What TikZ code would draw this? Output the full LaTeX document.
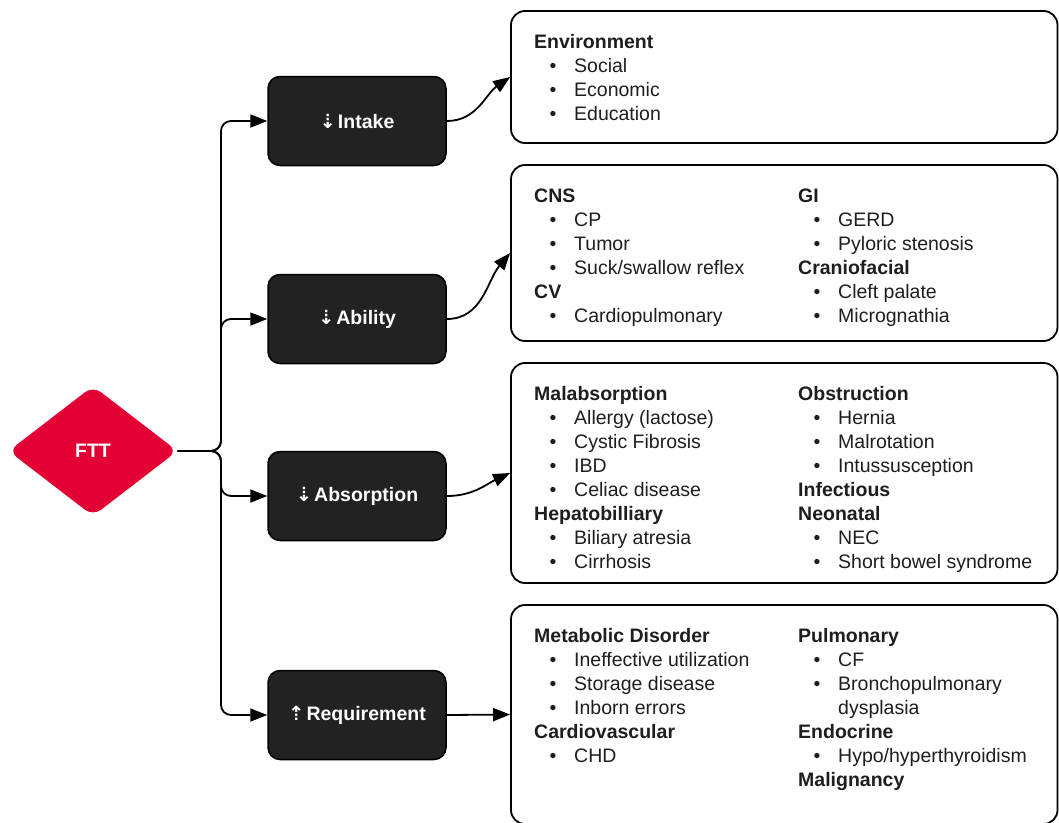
\documentclass[tikz,border=0pt]{standalone}
\usepackage{fontspec}
\setmainfont{Liberation Sans}
\newfontfamily\arrowfont{DejaVu Sans}
\usetikzlibrary{arrows.meta,shapes.geometric}

\definecolor{fttred}{RGB}{227,0,52}
\definecolor{boxdark}{RGB}{34,34,34}
\definecolor{ink}{RGB}{30,30,30}

% list helpers: group heading, bulleted item, wrapped continuation
\newcommand{\grp}[1]{\textbf{#1}}
\newcommand{\itm}[1]{\makebox[40pt][l]{\hspace{15.5pt}\textbullet}#1}
\newcommand{\cnt}[1]{\makebox[40pt]{}#1}
% small dashed arrow in front of a cause label
\newcommand{\cause}[2]{{\arrowfont #1}\hspace{2pt}#2}

\tikzset{
  causebox/.style={draw=black, fill=boxdark, line width=1.5pt, rounded corners=12pt,
    minimum width=178pt, minimum height=89pt, inner sep=0pt, text=white,
    font=\fontsize{19.5}{24}\selectfont\bfseries},
  infobox/.style={draw=black, line width=1.8pt, rounded corners=14pt, inner sep=0pt,
    minimum width=546.5pt},
  col/.style={anchor=north west, inner sep=0pt, align=left, text=ink,
    font=\fontsize{19.5}{24}\selectfont},
  conn/.style={draw=black, line width=1.8pt, rounded corners=10pt,
    -{Triangle[length=17pt,width=13pt]}},
}

\begin{document}
\begin{tikzpicture}[x=1pt, y=-1pt]
  \path[use as bounding box, fill=white] (0,0) rectangle (1059,822);
  \clip (0,0) rectangle (1059,822);

  % root
  \node[diamond, fill=fttred, rounded corners=10pt, minimum width=169pt,
        minimum height=130pt, inner sep=0pt, text=white,
        font=\fontsize{19.5}{24}\selectfont\bfseries] (ftt) at (93,451) {FTT};

  % causes
  \node[causebox] (intake) at (357,121) {\cause{⇣}{Intake}};
  \node[causebox] (ability) at (357,319) {\cause{⇣}{Ability}};
  \node[causebox] (absorp) at (357,496) {\cause{⇣}{Absorption}};
  \node[causebox] (req) at (357,715) {\cause{⇡}{Requirement}};

  % detail panels
  \node[infobox, minimum height=132pt] (env) at (784.25,77) {};
  \node[infobox, minimum height=176pt] (abil) at (784.25,253) {};
  \node[infobox, minimum height=220pt] (absb) at (784.25,473) {};
  \node[infobox, minimum height=219pt] (reqb) at (784.25,714.5) {};

  % panel texts
  \node[col] (envL) at (534,31.7) {\strut\grp{Environment}\\ \itm{Social}\\ \itm{Economic}\\ \itm{Education}};

  \node[col] (abilL) at (534,185.7) {\strut\grp{CNS}\\ \itm{CP}\\ \itm{Tumor}\\ \itm{Suck/swallow reflex}\\ \grp{CV}\\ \itm{Cardiopulmonary}};
  \node[col] (abilR) at (798,185.7) {\strut\grp{GI}\\ \itm{GERD}\\ \itm{Pyloric stenosis}\\ \grp{Craniofacial}\\ \itm{Cleft palate}\\ \itm{Micrognathia}};

  \node[col] (absbL) at (534,383.7) {\strut\grp{Malabsorption}\\ \itm{Allergy (lactose)}\\ \itm{Cystic Fibrosis}\\ \itm{IBD}\\ \itm{Celiac disease}\\ \grp{Hepatobilliary}\\ \itm{Biliary atresia}\\ \itm{Cirrhosis}};
  \node[col] (absbR) at (798,383.7) {\strut\grp{Obstruction}\\ \itm{Hernia}\\ \itm{Malrotation}\\ \itm{Intussusception}\\ \grp{Infectious}\\ \grp{Neonatal}\\ \itm{NEC}\\ \itm{Short bowel syndrome}};

  \node[col] (reqL) at (534,625.7) {\strut\grp{Metabolic Disorder}\\ \itm{Ineffective utilization}\\ \itm{Storage disease}\\ \itm{Inborn errors}\\ \grp{Cardiovascular}\\ \itm{CHD}};
  \node[col] (reqR) at (798,625.7) {\strut\grp{Pulmonary}\\ \itm{CF}\\ \itm{Bronchopulmonary}\\ \cnt{dysplasia}\\ \grp{Endocrine}\\ \itm{Hypo/hyperthyroidism}\\ \grp{Malignancy}};

  % root to causes
  \draw[conn] (ftt.east) -- (221,451) |- (intake.west);
  \draw[conn] (ftt.east) -- (221,451) |- (ability.west);
  \draw[conn] (ftt.east) -- (221,451) |- (absorp.west);
  \draw[conn] (ftt.east) -- (221,451) |- (req.west);

  % causes to panels
  \draw[conn] (intake.east) to[out=0, in=215] (env.west);
  \draw[conn] (ability.east) to[out=0, in=230] (abil.west);
  \draw[conn] (absorp.east) to[out=0, in=205] (absb.west);
  \draw[conn] (req.east) -- (reqb.west);
\end{tikzpicture}
\end{document}
